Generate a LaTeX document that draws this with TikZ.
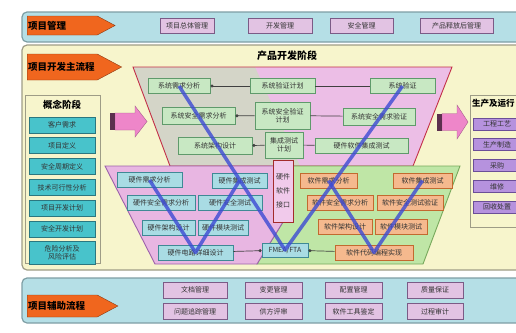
\documentclass[tikz,border=0pt]{standalone}
\usepackage{fontspec}
\setmainfont{Noto Sans CJK SC}
\usepackage{xcolor}
\usetikzlibrary{shapes,arrows,arrows.meta,positioning}

\definecolor{panelblue}{HTML}{B5DFE6}
\definecolor{paneledge}{HTML}{7E9EA4}
\definecolor{panelyellow}{HTML}{F7F5CC}
\definecolor{yellowedge}{HTML}{9E9C86}
\definecolor{tagorange}{HTML}{F0661E}
\definecolor{tagedge}{HTML}{8C3A12}
\definecolor{mglilac}{HTML}{E2C3E3}
\definecolor{mgedge}{HTML}{7B5B86}
\definecolor{cpteal}{HTML}{48C3CB}
\definecolor{cpedge}{HTML}{2B7780}
\definecolor{prpurple}{HTML}{B692DE}
\definecolor{predge}{HTML}{6B4E98}
\definecolor{vpink}{HTML}{ECBEE6}
\definecolor{vred}{HTML}{C33048}
\definecolor{vgreen}{HTML}{C5E5B4}
\definecolor{sysgreen}{HTML}{C8E8C3}
\definecolor{sysedge}{HTML}{5F9A6B}
\definecolor{hwpink}{HTML}{E8B6E2}
\definecolor{hwpurple}{HTML}{9C62AA}
\definecolor{hwblue}{HTML}{A9DCE4}
\definecolor{hwedge}{HTML}{3F8995}
\definecolor{swgreen}{HTML}{BFE6A6}
\definecolor{swgreenedge}{HTML}{78A95C}
\definecolor{swpeach}{HTML}{F5B98E}
\definecolor{swedge}{HTML}{C26A2F}
\definecolor{ifpink}{HTML}{F1CAEB}
\definecolor{ifred}{HTML}{A32B2B}
\definecolor{vblue}{HTML}{3C4AD4}
\definecolor{arrowpink}{HTML}{EE86C9}
\definecolor{arrowdark}{HTML}{5C304E}

\begin{document}
\begin{tikzpicture}[
        x=1pt, y=-1pt, node distance=4pt, font=\fontsize{7}{8}\selectfont,
        panel/.style={rounded corners=5pt, line width=1.2pt},
        tag/.style={signal, signal to=east, signal pointer angle=56, fill=tagorange, draw=tagedge,
            text width=68pt, inner xsep=1pt, minimum height=19pt, anchor=west,
            font=\fontsize{9.5}{10}\selectfont\bfseries},
        box/.style={rectangle, draw, line width=0.8pt, inner sep=1pt, align=center,
            minimum height=15pt, text=black!80},
        mgbox/.style={box, fill=mglilac, draw=mgedge},
        cpbox/.style={box, fill=cpteal, draw=cpedge, minimum width=66pt, minimum height=16pt},
        prbox/.style={box, fill=prpurple, draw=predge, minimum width=48pt, minimum height=12pt},
        sysbox/.style={box, fill=sysgreen, draw=sysedge},
        hwbox/.style={box, fill=hwblue, draw=hwedge},
        swbox/.style={box, fill=swpeach, draw=swedge},
        title/.style={font=\fontsize{9.5}{10}\selectfont\bfseries},
        link/.style={line width=0.7pt, draw=black!75},
        dotlink/.style={link, {Circle[length=3pt]}-},
        vline/.style={line width=3.5pt, draw=vblue, opacity=0.8, line join=round},
        fatarrow/.style={fill=arrowpink, draw=arrowpink!70!black, line width=0.4pt}
    ]
    \useasboundingbox (0,0) rectangle (516,332);
    \clip (0,0) rectangle (516,332);

    % project management band
    \draw[panel, fill=panelblue, draw=paneledge] (22,12) rectangle (545,42);
    \node[tag] (pm) at (27,25.5) {项目管理};
    \node[mgbox, minimum width=54pt] (pm1) at (187,25.5) {项目总体管理};
    \node[mgbox, minimum width=64pt] (pm2) at (280,25.5) {开发管理};
    \node[mgbox, minimum width=63pt] (pm3) at (361.5,25.5) {安全管理};
    \node[mgbox, minimum width=73pt] (pm4) at (456.5,25.5) {产品释放后管理};

    % main development band
    \draw[panel, fill=panelyellow, draw=yellowedge] (22,45) rectangle (545,270);
    \node[tag, minimum height=26pt] (main) at (27,67) {项目开发主流程};
    \node[title, font=\fontsize{10}{11}\selectfont\bfseries] (devtitle) at (287,56) {产品开发阶段};

    % concept phase
    \draw[line width=1pt, draw=yellowedge, fill=panelyellow] (25,95) rectangle (100,263);
    \node[title] (cptitle) at (62,105) {概念阶段};
    \node[cpbox] (c1) at (62,125) {客户需求};
    \node[cpbox, below=of c1] (c2) {项目定义};
    \node[cpbox, below=of c2] (c3) {安全周期定义};
    \node[cpbox, below=of c3] (c4) {技术可行性分析};
    \node[cpbox, below=of c4] (c5) {项目开发计划};
    \node[cpbox, below=of c5] (c6) {安全开发计划};
    \node[cpbox, minimum height=23pt, below=of c6] (c7) {危险分析及\\风险评估};

    % production and operation
    \draw[line width=1pt, draw=yellowedge, fill=panelyellow] (470,95) rectangle (545,227);
    \node[title, font=\fontsize{8.5}{9}\selectfont\bfseries, anchor=west, inner xsep=1pt]
        (prtitle) at (471,103) {生产及运行};
    \node[prbox] (r1) at (497,124) {工程工艺};
    \node[prbox, below=8pt of r1] (r2) {生产制造};
    \node[prbox, below=8pt of r2] (r3) {采购};
    \node[prbox, below=8pt of r3] (r4) {维修};
    \node[prbox, below=8pt of r4] (r5) {回收处置};

    % V model backgrounds
    \fill[vpink] (133,67) -- (452,67) -- (413,166) -- (170,166) -- cycle;
    \fill[vgreen, opacity=0.6] (133,67) -- (255,67) -- (300,166) -- (170,166) -- cycle;
    \draw[vred, line width=0.9pt] (133,67) -- (452,67) -- (413,166) -- (170,166) -- cycle;
    \draw[fill=swgreen, draw=swgreenedge, line width=0.9pt]
        (283,166) -- (460,166) -- (423,264) -- (257,264) -- (283,222) -- cycle;
    \draw[fill=hwpink, draw=hwpurple, line width=0.9pt]
        (105,166) -- (283,166) -- (283,222) -- (257,264) -- (155,264) -- cycle;
    \node[box, fill=ifpink, draw=ifred, line width=1pt, minimum width=20pt, minimum height=62pt,
        inner sep=0pt] (iface) at (283,191) {硬件\\[6pt]软件\\[6pt]接口};

    % system level
    \node[sysbox, minimum width=62pt] (s1) at (179,86) {系统需求分析};
    \node[sysbox, minimum width=65pt] (s2) at (282.5,86) {系统验证计划};
    \node[sysbox, minimum width=65pt] (s3) at (402.5,86) {系统验证};
    \node[sysbox, minimum width=73pt, minimum height=17pt] (s4) at (198.5,116) {系统安全需求分析};
    \node[sysbox, minimum width=55pt, minimum height=27pt] (s5) at (282.5,115.5) {系统安全验证\\计划};
    \node[sysbox, minimum width=72pt, minimum height=17pt] (s6) at (379,116.5) {系统安全需求验证};
    \node[sysbox, minimum width=74pt, minimum height=17pt] (s7) at (215,146) {系统架构设计};
    \node[sysbox, minimum width=38pt, minimum height=26pt] (s8) at (284,145) {集成测试\\计划};
    \node[sysbox, minimum width=93pt] (s9) at (361.5,145.5) {硬件软件集成测试};
    \draw[dotlink] (s1) -- (s2);
    \draw[link] (s2) -- (s3);
    \draw[dotlink] (s4) -- (s5);
    \draw[link] (s5) -- (s6);
    \draw[dotlink] (s7) -- (s8);
    \draw[link] (s8) -- (s9);

    % hardware level
    \node[hwbox, minimum width=65pt] (h1) at (149.5,180) {硬件需求分析};
    \node[hwbox, minimum width=55pt] (h2) at (239.5,180.5) {硬件集成测试};
    \node[hwbox, minimum width=68pt] (h3) at (161,202.5) {硬件安全需求分析};
    \node[hwbox, minimum width=64pt] (h4) at (230,202.5) {硬件安全测试};
    \node[hwbox, minimum width=53pt] (h5) at (168.5,227.5) {硬件架构设计};
    \node[hwbox, minimum width=50pt] (h6) at (223,227.5) {硬件模块测试};
    \node[hwbox, minimum width=75pt] (h7) at (195.5,252.5) {硬件电路详细设计};
    \node[hwbox, minimum width=46pt, minimum height=14pt] (fmea) at (285,250) {FMEA/FTA};

    % software level
    \node[swbox, minimum width=57pt] (w1) at (328.5,180.5) {软件需求分析};
    \node[swbox, minimum width=59pt] (w2) at (422.5,180.5) {软件集成测试};
    \node[swbox, minimum width=66pt] (w3) at (340,202.5) {软件安全需求分析};
    \node[swbox, minimum width=66pt] (w4) at (410,202.5) {软件安全测试验证};
    \node[swbox, minimum width=54pt] (w5) at (345,227) {软件架构设计};
    \node[swbox, minimum width=52pt] (w6) at (401,227) {软件模块测试};
    \node[swbox, minimum width=78pt] (w7) at (374,252.5) {软件代码编程实现};
    \draw[dotlink] (fmea) -- (h7);
    \draw[dotlink] (fmea) -- (w7);

    % V lines
    \draw[vline] (s1.center) -- (fmea.center) -- (s3.center);
    \draw[vline] (h1.center) -- (h7.center) -- (h2.center);
    \draw[vline] (w1.center) -- (w7.center) -- (w2.center);

    % phase arrows
    \draw[fatarrow] (115,113) -- (135,113) -- (135,106) -- (147,121.5) -- (135,137)
        -- (135,130) -- (115,130) -- cycle;
    \fill[arrowdark] (110,113) rectangle (115,130);
    \draw[fatarrow] (442,113.5) -- (457,113.5) -- (457,105) -- (468,122) -- (457,139)
        -- (457,130.5) -- (442,130.5) -- cycle;
    \fill[arrowdark] (437,113.5) rectangle (442,130.5);

    % support processes band
    \draw[panel, fill=panelblue, draw=paneledge] (22,278) rectangle (545,323);
    \node[tag, minimum height=22pt] (aux) at (27,306) {项目辅助流程};
    \node[mgbox, minimum width=64pt, minimum height=16pt] (a1) at (195,290) {文档管理};
    \node[mgbox, minimum width=57pt, minimum height=16pt] (a2) at (273.5,290) {变更管理};
    \node[mgbox, minimum width=57pt, minimum height=16pt] (a3) at (353.5,290) {配置管理};
    \node[mgbox, minimum width=56pt, minimum height=16pt] (a4) at (435,290) {质量保证};
    \node[mgbox, minimum width=64pt, minimum height=16pt] (a5) at (195,311.5) {问题追踪管理};
    \node[mgbox, minimum width=57pt, minimum height=16pt] (a6) at (273.5,311.5) {供方评审};
    \node[mgbox, minimum width=57pt, minimum height=16pt] (a7) at (353.5,311.5) {软件工具鉴定};
    \node[mgbox, minimum width=56pt, minimum height=16pt] (a8) at (435,311.5) {过程审计};
\end{tikzpicture}
\end{document}
